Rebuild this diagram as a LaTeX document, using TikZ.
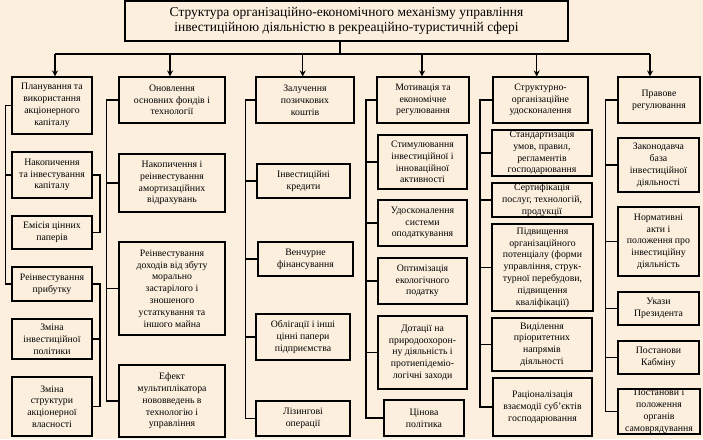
\documentclass[tikz,border=0pt]{standalone}
\usepackage{fontspec}
\setmainfont{Liberation Serif}
\usetikzlibrary{arrows.meta}
\definecolor{fonbeige}{RGB}{252,239,222}
\tikzset{
  blok/.style={draw, line width=1.1pt, align=center, inner xsep=1pt, inner ysep=0pt,
    font=\fontsize{9.8}{11.8}\selectfont},
  svyaz/.style={line width=1.1pt},
  strelka/.style={line width=1.1pt, -{Stealth[length=6pt,width=6pt]}}
}
% box given by its corners (x1,y1) and (x2,y2), y counted downwards
\newcommand{\blok}[6][]{
\pgfmathsetmacro{\blokw}{#5-#3}
\pgfmathsetmacro{\blokh}{#6-#4}
\node[blok, minimum width=\blokw pt, minimum height=\blokh pt, #1] (#2) at ({(#3+#5)/2},{(#4+#6)/2})
}

\begin{document}
\begin{tikzpicture}[x=1pt, y=-1pt]
    \fill[fonbeige] (0,0) rectangle (703,439);
    \useasboundingbox (0,0) rectangle (703,439);

    % title and bus
    \blok[font=\fontsize{13.5}{14.5}\selectfont]{zag}{125}{1}{568}{41}{Структура організаційно-економічного механізму управління\\ інвестиційною діяльністю в рекреаційно-туристичній сфері};
    \coordinate (shyna) at (340,54);
    \coordinate (shynaL) at (55,54);
    \coordinate (shynaR) at (650,54);
    \draw[svyaz] (zag.south -| shyna) -- (shyna);
    \draw[svyaz] (shynaL) -- (shynaR);

    % column 1
    \blok{h1}{12}{77}{92}{134}{Планування та\\ використання\\ акціонерного\\ капіталу};
    \blok{a1}{12}{152}{92}{198}{Накопичення\\ та інвестування\\ капіталу};
    \blok{b1}{12}{216}{92}{249}{Емісія цінних\\ паперів};
    \blok{c1}{12}{267}{92}{301}{Реінвестування\\ прибутку};
    \blok{d1}{12}{319}{92}{359}{Зміна\\ інвестиційної\\ політики};
    \blok{e1}{12}{377}{92}{436}{Зміна\\ структури\\ акціонерної\\ власності};

    % column 2
    \blok{h2}{119}{77}{225}{123}{Оновлення\\ основних фондів і\\ технології};
    \blok{a2}{119}{154}{225}{212}{Накопичення і\\ реінвестування\\ амортизаційних\\ відрахувань};
    \blok{b2}{119}{242}{225}{335}{Реінвестування\\ доходів від збуту\\ морально\\ застарілого і\\ зношеного\\ устаткування та\\ іншого майна};
    \blok{c2}{119}{365}{225}{437}{Ефект\\ мультиплікатора\\ нововведень в\\ технологію і\\ управління};

    % column 3
    \blok{h3}{256}{77}{354}{123}{Залучення\\ позичкових\\ коштів};
    \blok{a3}{257}{164}{350}{198}{Інвестиційні\\ кредити};
    \blok{b3}{258}{242}{353}{276}{Венчурне\\ фінансування};
    \blok{c3}{256}{314}{350}{360}{Облігації і інші\\ цінні папери\\ підприємства};
    \blok{d3}{256}{401}{350}{436}{Лізингові\\ операції};

    % column 4
    \blok{h4}{377}{77}{469}{123}{Мотивація та\\ економічне\\ регулювання};
    \blok{a4}{378}{135}{467}{189}{Стимулювання\\ інвестиційної і\\ інноваційної\\ активності};
    \blok{b4}{378}{200}{467}{246}{Удосконалення\\ системи\\ оподаткування};
    \blok{c4}{378}{258}{467}{304}{Оптимізація\\ екологічного\\ податку};
    \blok{d4}{378}{316}{467}{389}{Дотації на\\ природоохорон-\\ну діяльність і\\ протиепідеміо-\\логічні заходи};
    \blok{e4}{384}{400}{464}{436}{Цінова\\ політика};

    % column 5
    \blok{h5}{493}{77}{588}{123}{Структурно-\\організаційне\\ удосконалення};
    \blok{a5}{492}{130}{592}{176}{Стандартизація\\ умов, правил,\\ регламентів\\ господарювання};
    \blok{b5}{492}{183}{592}{217}{Сертифікація\\ послуг, технологій,\\ продукції};
    \blok{c5}{492}{224}{593}{311}{Підвищення\\ організаційного\\ потенціалу (форми\\ управління, струк-\\турної перебудови,\\ підвищення\\ кваліфікації)};
    \blok{d5}{492}{318}{592}{371}{Виділення\\ пріоритетних\\ напрямів\\ діяльності};
    \blok{e5}{493}{378}{592}{436}{Раціоналізація\\ взаємодії суб’єктів\\ господарювання};

    % column 6
    \blok{h6}{618}{77}{700}{123}{Правове\\ регулювання};
    \blok{a6}{618}{138}{699}{192}{Законодавча\\ база\\ інвестиційної\\ діяльності};
    \blok{b6}{618}{207}{699}{276}{Нормативні\\ акти і\\ положення про\\ інвестиційну\\ діяльність};
    \blok{c6}{618}{292}{699}{325}{Укази\\ Президента};
    \blok{d6}{618}{341}{699}{374}{Постанови\\ Кабміну};
    \blok{e6}{618}{389}{700}{434}{Постанови і\\ положення\\ органів\\ самоврядування};

    % arrows from the bus to the column heads
    \foreach \n/\x in {h1/55, h2/170, h3/302.7, h4/422, h5/536.7, h6/650}
        \draw[strelka] (\x,54) -- (\n.north -| \x,0);

    % left spines
    \coordinate (s1) at (5.7,0);
    \coordinate (s2) at (106.7,0);
    \coordinate (s3) at (245.7,0);
    \coordinate (s4) at (366,0);
    \coordinate (s5) at (480,0);
    \coordinate (s6) at (605.5,0);
    \coordinate (r1) at (100,0);
    \foreach \h/\last/\s in {h1/c1/s1, h2/c2/s2, h3/d3/s3, h4/e4/s4, h5/e5/s5, h6/e6/s6}
        \draw[svyaz] (\h.west) -- (\h.west -| \s) |- (\last.west);
    \foreach \b/\s in {a1/s1, a2/s2, b2/s2, a3/s3, b3/s3, c3/s3, a4/s4, b4/s4, c4/s4, d4/s4,
                       a5/s5, b5/s5, c5/s5, d5/s5, a6/s6, b6/s6, c6/s6, d6/s6}
        \draw[svyaz] (\b.west) -- (\b.west -| \s);

    % right brackets of column 1
    \draw[svyaz] (a1.east) -- (a1.east -| r1) |- (b1.east);
    \draw[svyaz] (c1.east) -- (c1.east -| r1) |- (e1.east);
    \draw[svyaz] (d1.east) -- (d1.east -| r1);
\end{tikzpicture}
\end{document}
